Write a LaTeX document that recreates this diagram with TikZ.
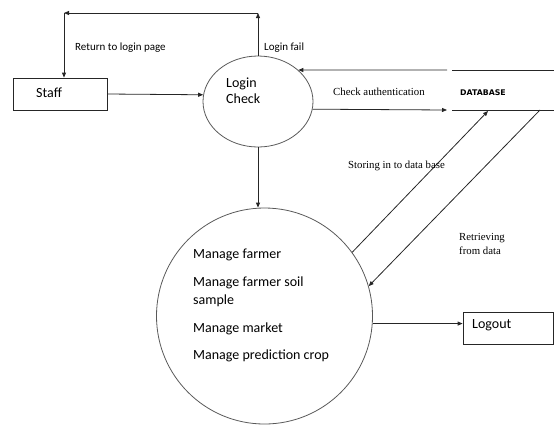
\documentclass[tikz,border=0pt]{standalone}
\usepackage{fontspec}
\setmainfont{Carlito}
\newfontfamily\romanface{Liberation Serif}
\newfontfamily\dbface{DejaVu Sans}
\usetikzlibrary{arrows.meta,shapes.geometric}

\tikzset{
  flow/.style={draw=black!85, line width=0.8pt, -{Triangle[length=5pt,width=4pt]}},
  plain/.style={draw=black!85, line width=0.8pt},
  proc/.style={draw=black!65, line width=0.8pt, inner sep=0pt},
  entity/.style={draw=black!85, line width=0.8pt, rectangle, inner sep=0pt},
  bigtext/.style={font=\fontsize{14}{18}\selectfont, inner sep=0pt, anchor=base west},
  smalltext/.style={font=\fontsize{11}{13}\selectfont, inner sep=0pt, anchor=base west},
  romantext/.style={font=\romanface\fontsize{10.8}{14}\selectfont, inner sep=0pt, anchor=base west},
}

\begin{document}
\begin{tikzpicture}[x=1pt, y=-1pt]
\useasboundingbox (0,0) rectangle (554,424);

% external entities
\node[entity, minimum width=94pt, minimum height=32pt] (staff) at (60,94) {};
\node[bigtext] (stafftext) at (36,97) {Staff};
\node[entity, minimum width=90pt, minimum height=32pt] (logout) at (508,328) {};
\node[bigtext] (logouttext) at (472,328) {Logout};

% processes
\node[proc, ellipse, minimum width=110pt, minimum height=91pt] (login) at (258,101.5) {};
\node[bigtext, align=left] (logintext1) at (226,87) {Login};
\node[bigtext, align=left] (logintext2) at (226,103) {Check};

\node[proc, circle, minimum size=216pt] (mainproc) at (264.5,316) {};
\node[bigtext] (m1) at (193,258) {Manage farmer};
\node[bigtext] (m2) at (193,286) {Manage farmer soil};
\node[bigtext] (m3) at (193,304) {sample};
\node[bigtext] (m4) at (193,332) {Manage market};
\node[bigtext] (m5) at (193,359) {Manage prediction crop};

% data store (open-ended)
\coordinate (dbtl) at (452,70);
\coordinate (dbtr) at (554,70);
\coordinate (dbbl) at (452,110);
\coordinate (dbbr) at (554,110);
\draw[plain] (dbtl) -- (dbtr);
\draw[plain] (dbbl) -- (dbbr);
\node[font=\dbface\bfseries\fontsize{7.8}{9}\selectfont, inner sep=0pt, anchor=base west] (dbtext) at (460,95.5) {DATABASE};

% login failure loop
\coordinate (failtop) at (login.north |- 0,13);
\coordinate (retcorner) at (64,13);
\draw[flow] (login.north) -- (failtop);
\draw[flow] (failtop) -- (retcorner);
\draw[flow] (retcorner) -- (retcorner |- staff.north);
\node[smalltext] (rettext) at (75,50) {Return to login page};
\node[smalltext] (failtext) at (264,50) {Login fail};

% staff to login
\draw[flow] (staff.east) -- (login.173.2);

% authentication against the data store
\coordinate (dbin) at (447,70);
\coordinate (dbchk) at (447,110);
\draw[flow] (dbin) -- (login.38.4);
\draw[flow] (login.-8.9) -- (dbchk);
\node[romantext] (chktext) at (333,95.5) {Check authentication};

% login to management process
\draw[flow] (login.south) -- (login.south |- mainproc.north);

% storing and retrieving
\coordinate (dbstore) at (488,111);
\coordinate (dbret) at (540,110);
\draw[flow] (mainproc.36.5) -- (dbstore);
\draw[flow] (dbret) -- (mainproc.16.7);
\node[romantext] (storetext) at (348,168) {Storing in to data base};
\node[romantext, align=left] (rettext1) at (459,240) {Retrieving};
\node[romantext, align=left] (rettext2) at (459,254) {from data};

% logout
\draw[flow] (mainproc.-4.8) -- (mainproc.-4.8 -| logout.west);

\end{tikzpicture}
\end{document}
